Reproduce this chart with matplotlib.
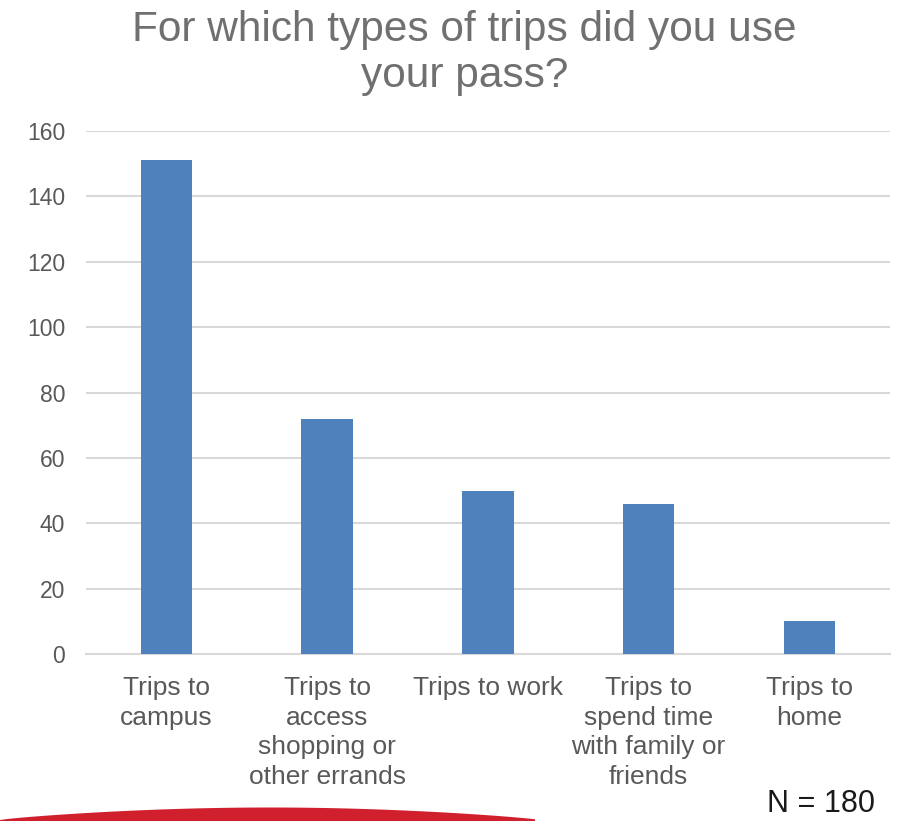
import matplotlib.pyplot as plt
from matplotlib.patches import Polygon
import numpy as np

plt.rcParams['font.family'] = ['Liberation Sans', 'DejaVu Sans']

# survey answers
categories = ['Trips to\ncampus',
              'Trips to\naccess\nshopping or\nother errands',
              'Trips to work',
              'Trips to\nspend time\nwith family or\nfriends',
              'Trips to\nhome']
counts = [151, 72, 50, 46, 10]
y_ticks = [0, 20, 40, 60, 80, 100, 120, 140, 160]

grey = '#595959'

fig = plt.figure(figsize=(9, 8.21), dpi=100)
ax = fig.add_axes([0.0956, 0.2034, 0.893, 0.637])

x = np.arange(len(categories))
ax.bar(x, counts, width=0.32, color='#4f81bd', zorder=3)

ax.set_xlim(-0.5, len(categories) - 0.5)
ax.set_ylim(0, 160)
ax.set_yticks(y_ticks)
ax.set_xticks(x)
ax.set_xticklabels(categories, fontsize=19, color=grey, linespacing=1.29, va='top')
ax.tick_params(axis='y', labelsize=16.5, colors=grey, length=0, pad=15)
ax.tick_params(axis='x', length=0, pad=16)
ax.grid(axis='y', color='#d9d9d9', linewidth=1.5, zorder=0)
for s in ['top', 'right', 'left']:
    ax.spines[s].set_visible(False)
ax.spines['bottom'].set_color('#d9d9d9')
ax.spines['bottom'].set_linewidth(1.5)

fig.text(0.516, 0.988, 'For which types of trips did you use\nyour pass?',
         ha='center', va='top', fontsize=30.5, color='#707070', linespacing=1.205)

fig.text(0.972, 0.011, 'N = 180', ha='right', va='baseline', fontsize=22, color='#1a1a1a')

# red swoosh along the bottom edge (pixel units -> figure fraction)
px = np.linspace(0, 535, 80)
thick = 12.5 * np.sin(np.pi * px / 540) ** 0.8 + 1
pts = np.vstack([[[0, 0]], np.column_stack([px / 900, thick / 821]), [[535 / 900, 0]]])
fig.patches.append(Polygon(pts, closed=True, transform=fig.transFigure,
                           facecolor='#d0202e', edgecolor='none'))

fig.savefig('out.png', dpi=100)
